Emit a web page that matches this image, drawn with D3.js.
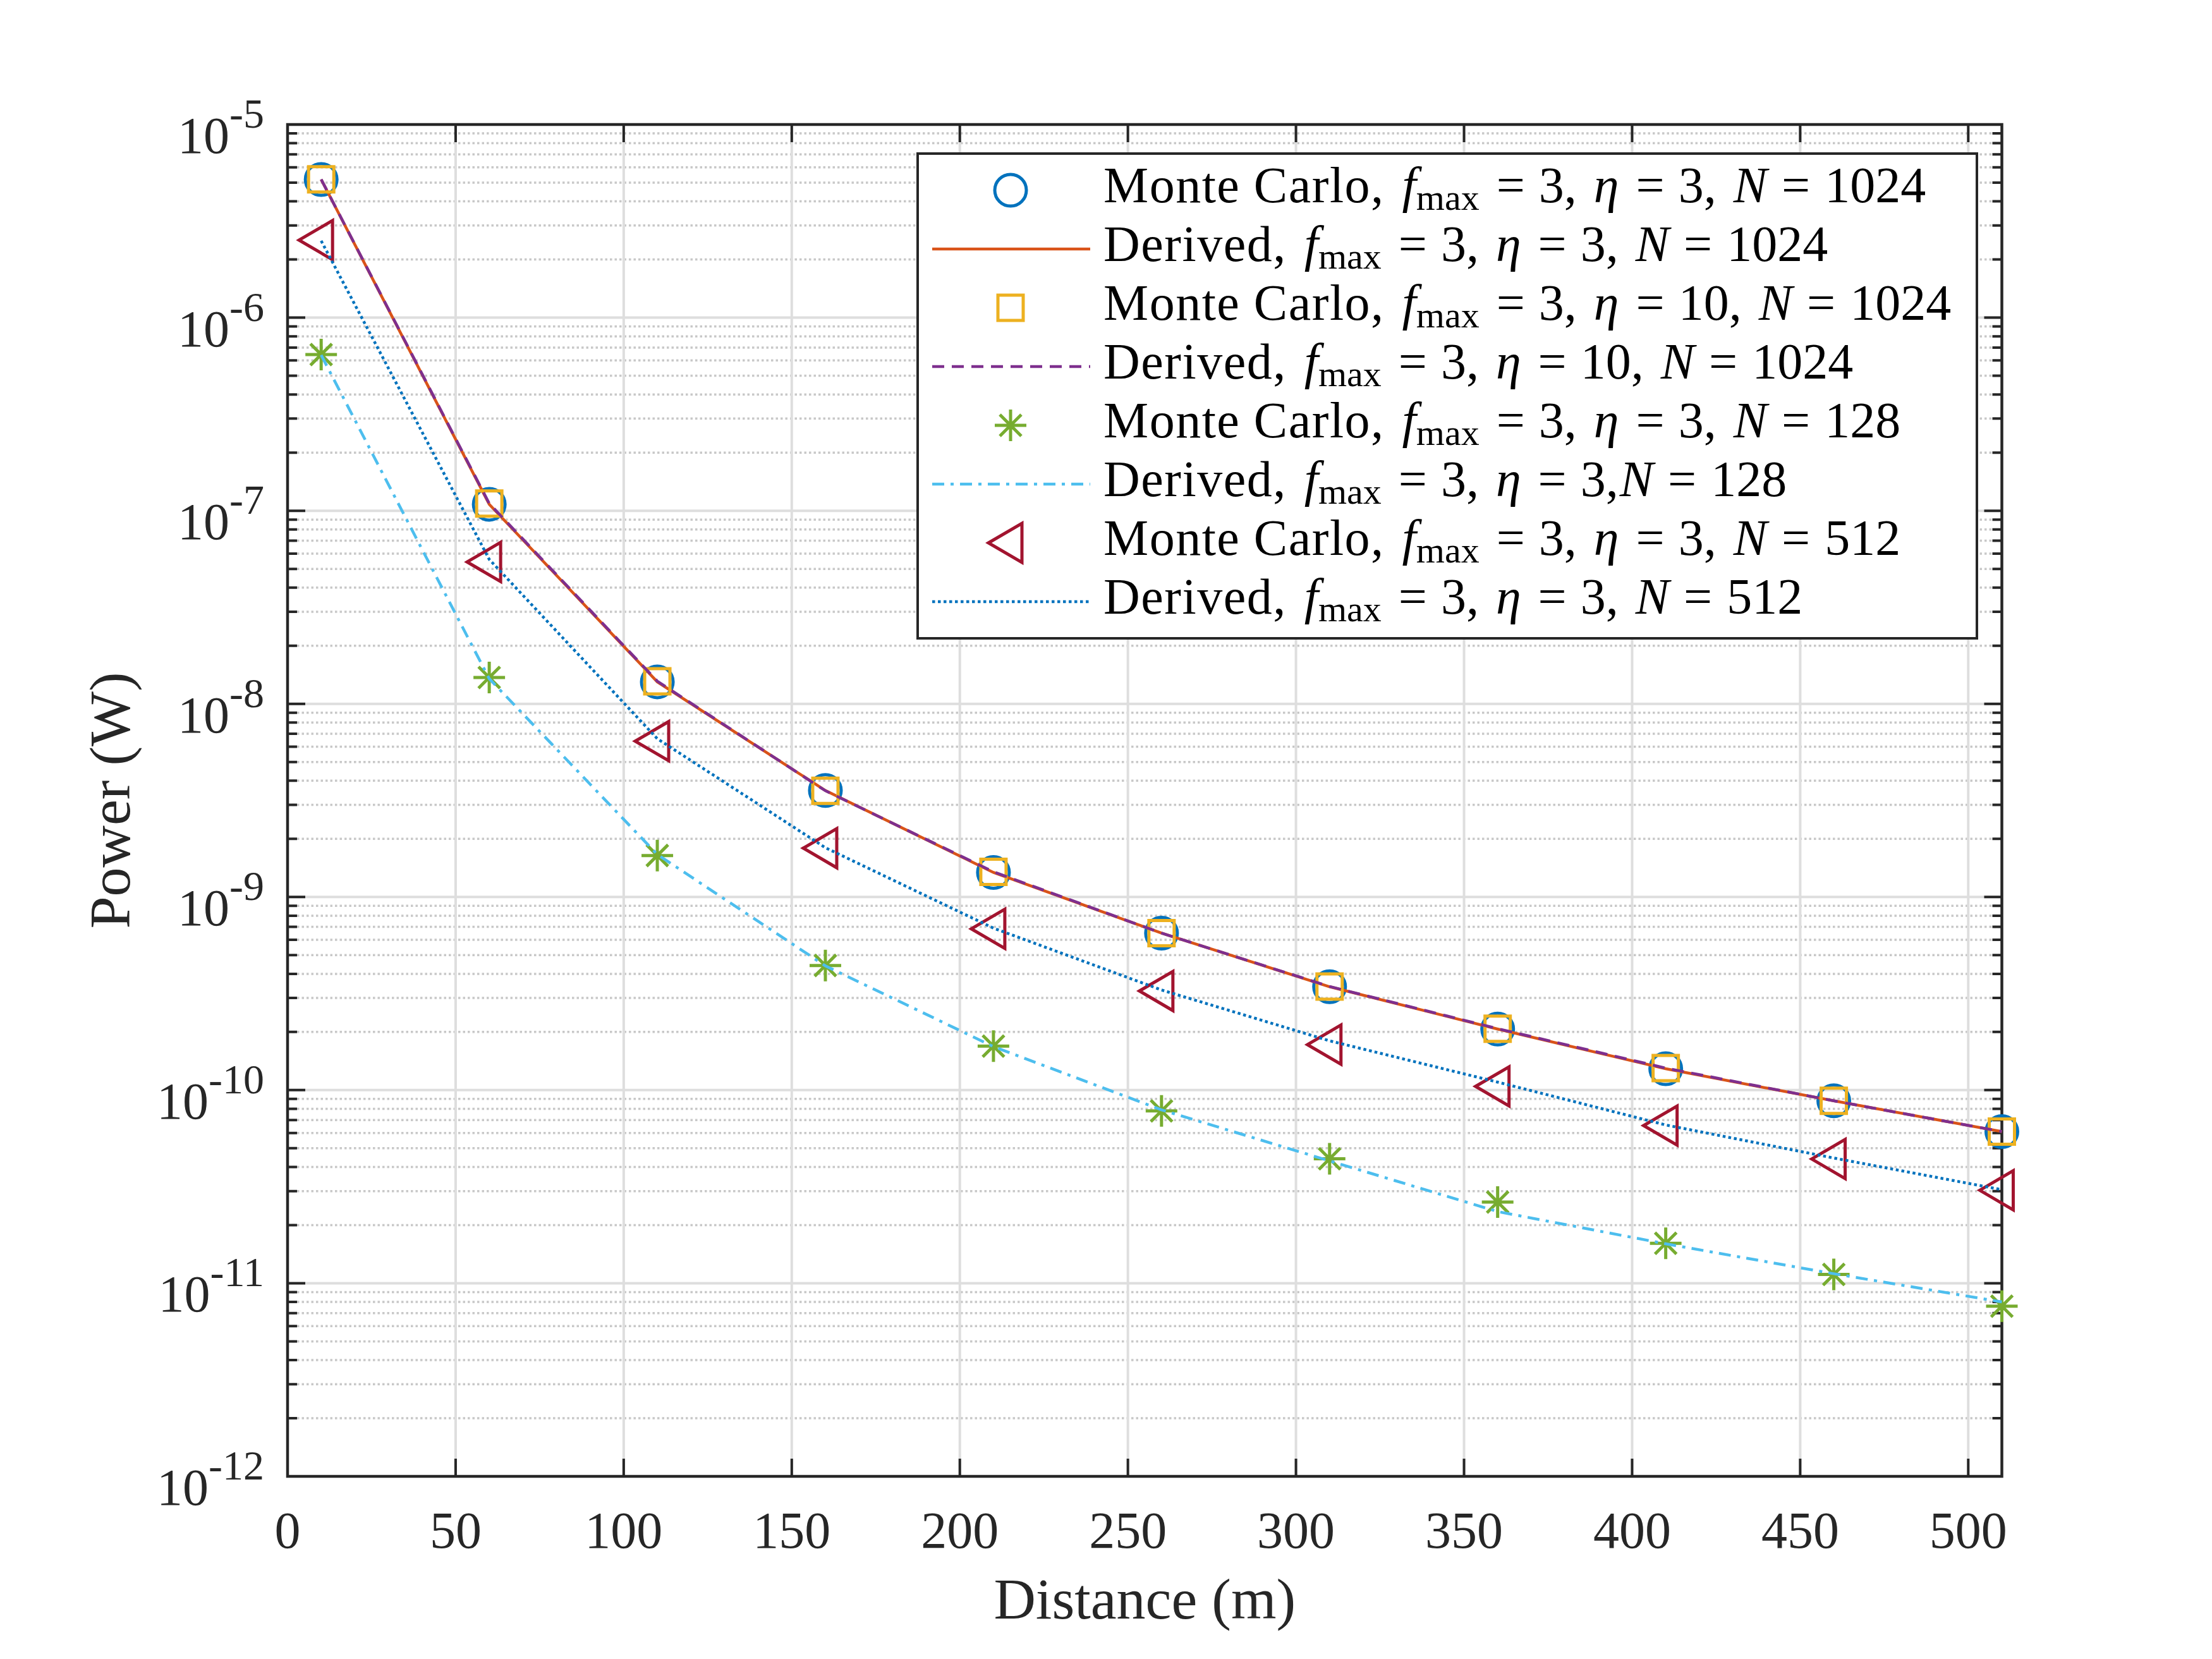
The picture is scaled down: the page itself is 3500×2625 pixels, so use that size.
<!DOCTYPE html>
<meta charset="utf-8">
<script src="https://d3js.org/d3.v7.min.js"></script>
<style>
  body { margin: 0; background: #fff; }
</style>
<div id="chart"></div>
<script>

// distance of each sample (m)
var distance = [10, 60, 110, 160, 210, 260, 310, 360, 410, 460, 510];

// received power (W)
var mcEta3N1024      = [5.19e-6, 1.08e-7, 1.30e-8, 3.56e-9, 1.34e-9, 6.5e-10, 3.43e-10, 2.07e-10, 1.29e-10, 8.8e-11, 6.1e-11];
var derivedEta3N1024 = [5.19e-6, 1.08e-7, 1.30e-8, 3.56e-9, 1.34e-9, 6.5e-10, 3.43e-10, 2.07e-10, 1.29e-10, 8.8e-11, 6.1e-11];
var mcEta10N1024     = [5.2e-6, 1.09e-7, 1.31e-8, 3.55e-9, 1.35e-9, 6.5e-10, 3.44e-10, 2.08e-10, 1.30e-10, 8.8e-11, 6.1e-11];
var derivedEta10N1024= [5.2e-6, 1.09e-7, 1.31e-8, 3.55e-9, 1.35e-9, 6.5e-10, 3.44e-10, 2.08e-10, 1.30e-10, 8.8e-11, 6.1e-11];
var mcEta3N128       = [6.44e-7, 1.37e-8, 1.64e-9, 4.42e-10, 1.69e-10, 7.8e-11, 4.41e-11, 2.63e-11, 1.61e-11, 1.11e-11, 7.6e-12];
var derivedEta3N128  = [6.4e-7, 1.35e-8, 1.66e-9, 4.4e-10, 1.68e-10, 7.9e-11, 4.3e-11, 2.35e-11, 1.6e-11, 1.12e-11, 8.0e-12];
var mcEta3N512       = [2.52e-6, 5.43e-8, 6.41e-9, 1.79e-9, 6.84e-10, 3.26e-10, 1.72e-10, 1.045e-10, 6.55e-11, 4.4e-11, 3.03e-11];
var derivedEta3N512  = [2.5e-6, 5.6e-8, 6.6e-9, 1.8e-9, 6.9e-10, 3.3e-10, 1.8e-10, 1.1e-10, 6.6e-11, 4.45e-11, 3.05e-11];

// axis ticks
var xTicks = [0, 50, 100, 150, 200, 250, 300, 350, 400, 450, 500];
var yExponents = [-12, -11, -10, -9, -8, -7, -6, -5];
var minorSteps = [2, 3, 4, 5, 6, 7, 8, 9];

// legend pieces
var legendKind = ["Monte Carlo", "Derived", "Monte Carlo", "Derived", "Monte Carlo", "Derived", "Monte Carlo", "Derived"];
var legendEta  = ["3", "3", "10", "10", "3", "3", "3", "3"];
var legendSep  = [", ", ", ", ", ", ", ", ", ", ",", ", ", ", "];
var legendN    = ["1024", "1024", "1024", "1024", "128", "128", "512", "512"];

var W = 3500, H = 2625;
var plot = {left: 455, right: 3167.5, top: 197, bottom: 2336};
var axisColor = "#262626";
var serif = "'Liberation Serif', 'Times New Roman', serif";

var svg = d3.select("#chart").append("svg")
    .attr("width", W)
    .attr("height", H)
    .style("background", "#fff");

var x = d3.scaleLinear().domain([0, 510]).range([plot.left, plot.right]);
var y = d3.scaleLog().domain([1e-12, 1e-5]).range([plot.bottom, plot.top]);

// minor y values
var minorY = [];
yExponents.slice(0, -1).forEach(function(e) {
  minorSteps.forEach(function(k) { minorY.push(k * Math.pow(10, e)); });
});
var majorY = yExponents.map(function(e) { return Math.pow(10, e); });

// ---- grid ----
var grid = svg.append("g");
grid.selectAll(".minorGrid").data(minorY).enter().append("line")
    .attr("x1", plot.left).attr("x2", plot.right)
    .attr("y1", function(d) { return y(d); }).attr("y2", function(d) { return y(d); })
    .attr("stroke", "#c8c8c8").attr("stroke-width", 3.5)
    .attr("stroke-dasharray", "3.5,4");
grid.selectAll(".majorGridY").data(majorY).enter().append("line")
    .attr("x1", plot.left).attr("x2", plot.right)
    .attr("y1", function(d) { return y(d); }).attr("y2", function(d) { return y(d); })
    .attr("stroke", "#dedede").attr("stroke-width", 4);
grid.selectAll(".majorGridX").data(xTicks.slice(1)).enter().append("line")
    .attr("y1", plot.top).attr("y2", plot.bottom)
    .attr("x1", function(d) { return x(d); }).attr("x2", function(d) { return x(d); })
    .attr("stroke", "#dedede").attr("stroke-width", 4);

// ---- axes (box, ticks inside on all sides) ----
var ax = svg.append("g");
var majLen = 28, minLen = 15;

ax.selectAll(".xt").data(xTicks).enter().append("path")
    .attr("d", function(d) {
      var px = x(d);
      return "M" + px + "," + plot.bottom + "v" + (-majLen) + "M" + px + "," + plot.top + "v" + majLen;
    })
    .attr("stroke", axisColor).attr("stroke-width", 4);

ax.selectAll(".yt").data(majorY).enter().append("path")
    .attr("d", function(d) {
      var py = y(d);
      return "M" + plot.left + "," + py + "h" + majLen + "M" + plot.right + "," + py + "h" + (-majLen);
    })
    .attr("stroke", axisColor).attr("stroke-width", 4);

ax.selectAll(".ymt").data(minorY).enter().append("path")
    .attr("d", function(d) {
      var py = y(d);
      return "M" + plot.left + "," + py + "h" + minLen + "M" + plot.right + "," + py + "h" + (-minLen);
    })
    .attr("stroke", axisColor).attr("stroke-width", 4);

ax.append("rect")
    .attr("x", plot.left).attr("y", plot.top)
    .attr("width", plot.right - plot.left).attr("height", plot.bottom - plot.top)
    .attr("fill", "none").attr("stroke", axisColor).attr("stroke-width", 4.5);

// x tick labels
ax.selectAll(".xl").data(xTicks).enter().append("text")
    .attr("x", function(d) { return x(d); })
    .attr("y", plot.bottom + 113)
    .attr("text-anchor", "middle")
    .attr("font-family", serif).attr("font-size", 82)
    .attr("fill", axisColor)
    .text(function(d) { return d; });

// y tick labels 10^e
var yl = ax.selectAll(".yl").data(yExponents).enter().append("text")
    .attr("x", plot.left - 37)
    .attr("y", function(d) { return y(Math.pow(10, d)) + 45; })
    .attr("text-anchor", "end")
    .attr("font-family", serif).attr("font-size", 82)
    .attr("fill", axisColor);
yl.append("tspan").text("10");
yl.append("tspan").attr("dy", -40).attr("font-size", 66)
    .text(function(d) { return "-" + Math.abs(d); });

// axis titles
svg.append("text")
    .attr("x", (plot.left + plot.right) / 2).attr("y", 2561)
    .attr("text-anchor", "middle")
    .attr("font-family", serif).attr("font-size", 92).attr("fill", axisColor)
    .text("Distance (m)");
svg.append("text")
    .attr("transform", "translate(205," + (plot.top + plot.bottom) / 2 + ") rotate(-90)")
    .attr("text-anchor", "middle")
    .attr("font-family", serif).attr("font-size", 92).attr("fill", axisColor)
    .text("Power (W)");

// ---- marker shapes ----
function markerPath(kind) {
  if (kind === "circle") {
    var r = 25;
    return "M" + (-r) + ",0A" + r + "," + r + " 0 1,0 " + r + ",0A" + r + "," + r + " 0 1,0 " + (-r) + ",0Z";
  }
  if (kind === "square") return "M-20,-20H20V20H-20Z";
  if (kind === "triangle") return "M-35,0L18,-31L18,31Z";
  if (kind === "star") return "M0,-25V25M-25,0H25M-17,-17L17,17M-17,17L17,-17";
}

var series = [
  {values: mcEta3N1024,       color: "#0072BD", marker: "circle"},
  {values: derivedEta3N1024,  color: "#D95319", dash: null},
  {values: mcEta10N1024,      color: "#EDB120", marker: "square"},
  {values: derivedEta10N1024, color: "#7E2F8E", dash: "19,12"},
  {values: mcEta3N128,        color: "#77AC30", marker: "star"},
  {values: derivedEta3N128,   color: "#4DBEEE", dash: "19,10,5,10"},
  {values: mcEta3N512,        color: "#A2142F", marker: "triangle"},
  {values: derivedEta3N512,   color: "#0072BD", dash: "4.5,4.5"}
];

var line = d3.line()
    .x(function(d) { return x(d[0]); })
    .y(function(d) { return y(d[1]); });

var dataLayer = svg.append("g");
series.forEach(function(s) {
  var pts = d3.zip(distance, s.values);
  if (s.marker) {
    dataLayer.append("g").selectAll("path").data(pts).enter().append("path")
        .attr("transform", function(d) { return "translate(" + x(d[0]) + "," + y(d[1]) + ")"; })
        .attr("d", markerPath(s.marker))
        .attr("fill", "none").attr("stroke", s.color).attr("stroke-width", 5);
  } else {
    dataLayer.append("path")
        .attr("d", line(pts))
        .attr("fill", "none").attr("stroke", s.color).attr("stroke-width", 4.5)
        .attr("stroke-dasharray", s.dash);
  }
});

// ---- legend ----
var lg = svg.append("g");
lg.append("rect")
    .attr("x", 1452).attr("y", 243).attr("width", 1676).attr("height", 767)
    .attr("fill", "#fff").attr("stroke", axisColor).attr("stroke-width", 4);

// adds one piece of a legend entry; gap is extra space before it (LaTeX-like spacing)
function piece(t, text, gap, italic, dy, size) {
  var sp = t.append("tspan").text(text);
  if (gap) sp.attr("dx", gap);
  if (italic) sp.attr("font-style", "italic");
  if (dy) sp.attr("dy", dy);
  if (size) sp.attr("font-size", size);
  return sp;
}

series.forEach(function(s, i) {
  var cy = 301 + i * 93;
  if (s.marker) {
    lg.append("path")
        .attr("transform", "translate(1599," + cy + ")")
        .attr("d", markerPath(s.marker))
        .attr("fill", "none").attr("stroke", s.color).attr("stroke-width", 5);
  } else {
    lg.append("line")
        .attr("x1", 1475).attr("x2", 1725).attr("y1", cy).attr("y2", cy)
        .attr("stroke", s.color).attr("stroke-width", 4.5)
        .attr("stroke-dasharray", s.dash);
  }
  var t = lg.append("text")
      .attr("x", 1746).attr("y", cy + 19)
      .attr("font-family", serif).attr("font-size", 80)
      .attr("fill", "#000");
  var sepGap = legendSep[i].length > 1 ? 27 : 2;
  piece(t, legendKind[i] + ",", 0).attr("letter-spacing", 1.5);
  piece(t, "f", 28, true);
  piece(t, "max", 0, false, 12, 58);
  piece(t, "=", 27, false, -12);
  piece(t, "3,", 22);
  piece(t, "\u03B7", 27, true);
  piece(t, "=", 27);
  piece(t, legendEta[i] + ",", 22);
  piece(t, "N", sepGap, true);
  piece(t, "=", 23);
  piece(t, legendN[i], 23);
});

</script>
